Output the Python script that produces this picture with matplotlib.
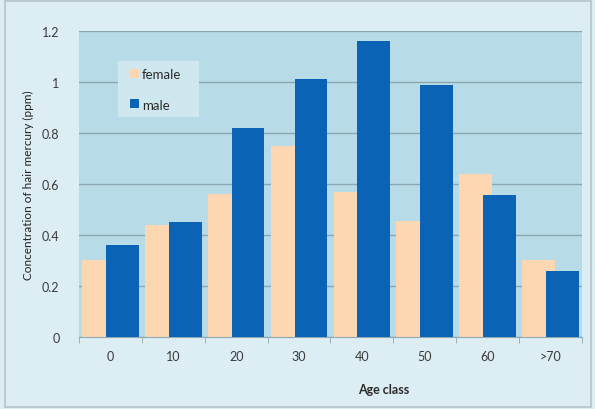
import matplotlib
matplotlib.use("Agg")
import matplotlib.pyplot as plt
import numpy as np
from matplotlib.patches import Rectangle

categories = ["0", "10", "20", "30", "40", "50", "60", ">70"]
female = [0.30, 0.44, 0.56, 0.75, 0.57, 0.455, 0.64, 0.30]
male = [0.36, 0.45, 0.82, 1.01, 1.16, 0.99, 0.557, 0.26]

plt.rcParams['font.family'] = ['Lato', 'DejaVu Sans']

fig = plt.figure(figsize=(5.95, 4.10), dpi=100)
fig.patch.set_facecolor('#dcedf3')
fig.patches.append(Rectangle((0.008, 0.006), 0.986, 0.988, transform=fig.transFigure,
                             facecolor='none', edgecolor='#b5c3c8', linewidth=1.2))

ax = fig.add_axes([0.1328, 0.1756, 0.8452, 0.7464])
ax.set_facecolor('#b8dce7')
x = np.arange(len(categories))
w = 0.52
ax.bar(x - 0.19, female, width=w, color='#fdd6b2', zorder=2, label='female')
ax.bar(x + 0.19, male, width=w, color='#0b63b6', zorder=3, label='male')

ax.set_xlim(-0.5, len(categories) - 0.5)
ax.set_ylim(0, 1.2)
ax.set_yticks([0, 0.2, 0.4, 0.6, 0.8, 1.0, 1.2])
ax.set_yticklabels(['0', '0.2', '0.4', '0.6', '0.8', '1', '1.2'])
ax.set_xticks(x)
ax.set_xticklabels(categories)
ax.set_xticks(np.arange(-0.5, len(categories), 1.0), minor=True)
ax.tick_params(axis='x', which='major', length=0, pad=9, labelsize=9, colors='#3a3a3a')
ax.tick_params(axis='x', which='minor', length=4, color='#8fa9b2', direction='out')
ax.tick_params(axis='y', length=0, pad=14, labelsize=9, colors='#3a3a3a')
ax.grid(axis='y', color='#8aa6b0', linewidth=1.0, zorder=1)
ax.set_axisbelow(True)
for s in ['top', 'right', 'left']:
    ax.spines[s].set_visible(False)
ax.spines['bottom'].set_color('#8fa9b2')

ax.set_ylabel('Concentration of hair mercury (ppm)', fontsize=8.5, color='#222222', labelpad=6)
fig.text(0.645, 0.048, 'Age class', ha='center', va='center', fontsize=9,
         fontweight='bold', color='#2a2a2a')

# legend background box
ax.add_patch(Rectangle((0.0775, 0.718), 0.161, 0.184, transform=ax.transAxes,
                       facecolor='#cfe7ef', edgecolor='none', zorder=4))
leg = ax.legend(loc='upper left', bbox_to_anchor=(0.102, 0.878), frameon=False, fontsize=9.5,
                handlelength=0.65, handleheight=0.65, handletextpad=0.25, labelspacing=1.38,
                borderpad=0, borderaxespad=0)
leg.set_zorder(5)
for t in leg.get_texts():
    t.set_color('#2a2a2a')

fig.savefig('out.png', dpi=100, facecolor=fig.get_facecolor())
